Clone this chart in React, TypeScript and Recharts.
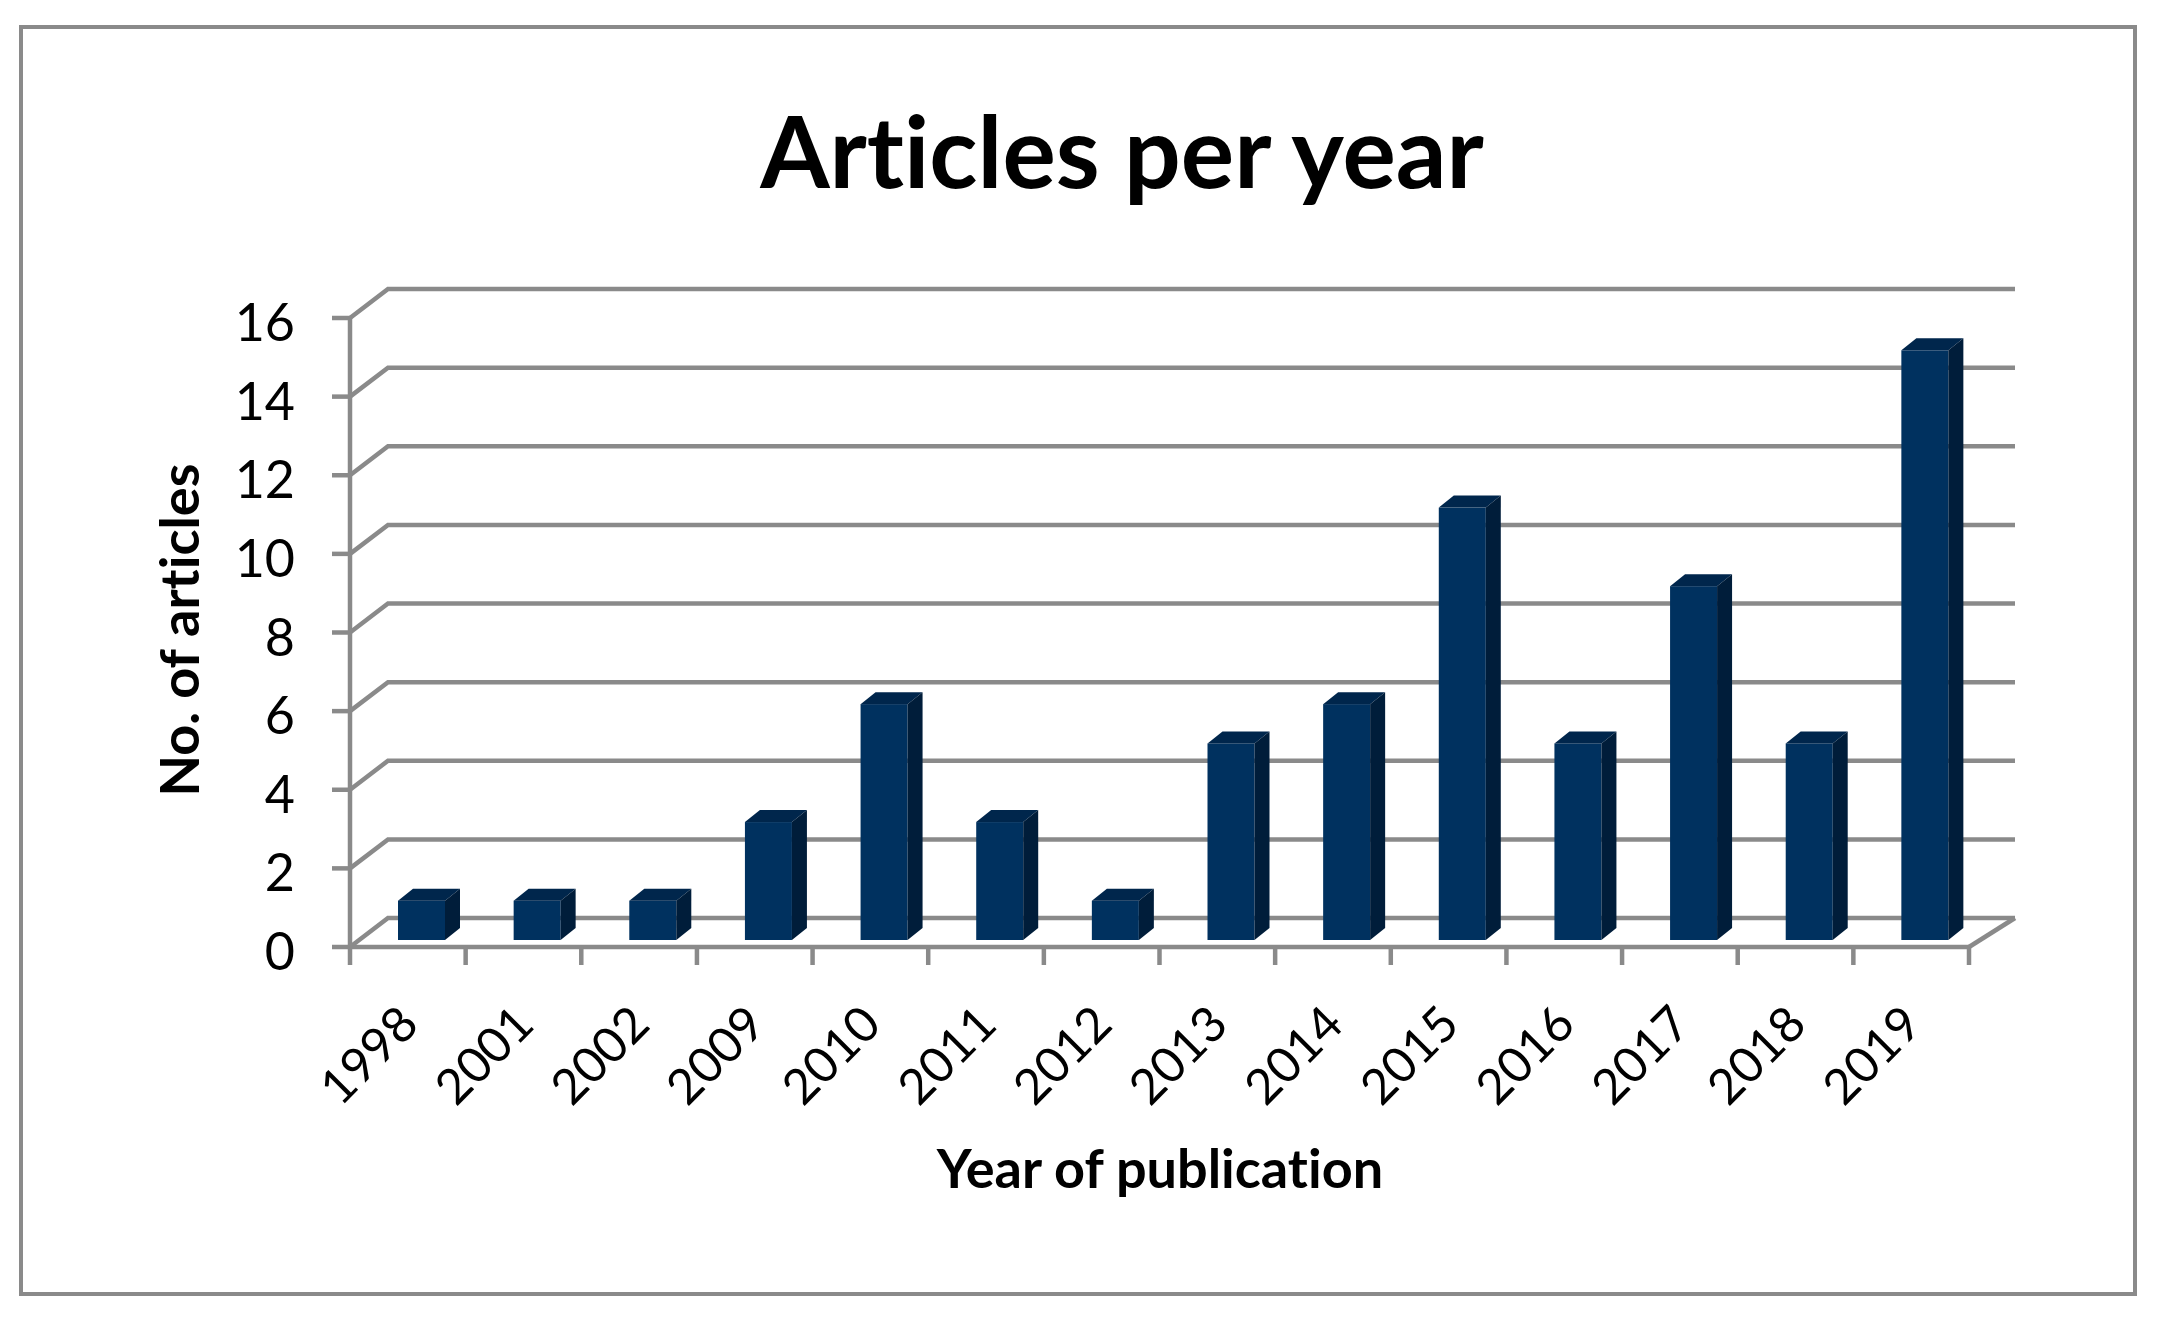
import React from 'react';
import { BarChart, Bar, XAxis, YAxis, CartesianGrid } from 'recharts';

const years = ['1998', '2001', '2002', '2009', '2010', '2011', '2012', '2013', '2014', '2015', '2016', '2017', '2018', '2019'];
const articles = [1, 1, 1, 3, 6, 3, 1, 5, 6, 11, 5, 9, 5, 15];
const yTicks = [0, 2, 4, 6, 8, 10, 12, 14, 16];

const data = years.map((year, i) => ({ year, articles: articles[i] }));

const W = 2158;
const H = 1318;
const margin = { top: 318, right: 189, bottom: 271, left: 290 };
const Y_AXIS_W = 60;
const X_AXIS_H = 100;
const plotLeft = margin.left + Y_AXIS_W;
const plotRight = W - margin.right;
const plotBottom = H - margin.bottom - X_AXIS_H;
const band = (plotRight - plotLeft) / years.length;

// 3d look: back wall offset, bar offset
const wallLeftDx = 38;
const wallRightDx = 46;
const wallDy = -29;
const barDx = 14;
const barDy = -7;
const barDepthX = 15;
const barDepthY = -12;

const gray = '#8a8a8a';
const lineW = 4.5;
const font = 'Lato, "Open Sans", sans-serif';

const GridLine = (p: any) => {
  const y = p.y1;
  const isFloor = Math.abs(y - plotBottom) < 1;
  return (
    <g key={p.key}>
      <polyline
        points={`${p.x1},${y} ${p.x1 + wallLeftDx},${y + wallDy} ${p.x2 + wallRightDx},${y + wallDy}`}
        fill="none"
        stroke={gray}
        strokeWidth={lineW}
      />
      {isFloor && (
        <line x1={p.x2} y1={y} x2={p.x2 + wallRightDx} y2={y + wallDy} stroke={gray} strokeWidth={lineW} />
      )}
    </g>
  );
};

const YTick = (p: any) => (
  <g>
    <line x1={p.x - 18} y1={p.y} x2={p.x} y2={p.y} stroke={gray} strokeWidth={lineW} />
    <text x={p.x - 55} y={p.y + 23} textAnchor="end" fontFamily={font} fontSize={52} fill="#000">
      {p.payload.value}
    </text>
  </g>
);

const XTick = (p: any) => {
  const right = p.x + band / 2;
  const left = p.x - band / 2;
  const ax = p.x + 13;
  const ay = plotBottom + 80;
  return (
    <g>
      {p.index === 0 && <line x1={left} y1={plotBottom} x2={left} y2={plotBottom + 18} stroke={gray} strokeWidth={lineW} />}
      <line x1={right} y1={plotBottom} x2={right} y2={plotBottom + 18} stroke={gray} strokeWidth={lineW} />
      <text
        x={ax}
        y={ay}
        textAnchor="end"
        transform={`rotate(-45 ${ax} ${ay})`}
        fontFamily={font}
        fontSize={49}
        fill="#000"
      >
        {p.payload.value}
      </text>
    </g>
  );
};

const Bar3D = (p: any) => {
  const x = p.x + barDx;
  const y = p.y + barDy;
  const w = p.width;
  const h = p.height;
  if (!h) return null;
  return (
    <g>
      <rect x={x} y={y} width={w} height={h} fill="#00315f" />
      <polygon
        points={`${x},${y} ${x + barDepthX},${y + barDepthY} ${x + w + barDepthX},${y + barDepthY} ${x + w},${y}`}
        fill="#00264c"
      />
      <polygon
        points={`${x + w},${y} ${x + w + barDepthX},${y + barDepthY} ${x + w + barDepthX},${y + h + barDepthY} ${x + w},${y + h}`}
        fill="#001d3a"
      />
    </g>
  );
};

const label: React.CSSProperties = {
  position: 'absolute',
  textAlign: 'center',
  fontFamily: font,
  fontWeight: 700,
  color: '#000',
  fontVariantLigatures: 'none',
  fontFeatureSettings: '"liga" 0',
};

export default function App() {
  return (
    <div style={{ position: 'absolute', left: 0, top: 0, width: W, height: H, background: '#fff' }}>
      <div
        style={{
          position: 'absolute',
          left: 19,
          top: 25,
          width: 2118,
          height: 1271,
          boxSizing: 'border-box',
          border: '4px solid #8a8a8a',
        }}
      />
      <BarChart width={W} height={H} data={data} margin={margin} style={{ position: 'absolute', left: 0, top: 0 }}>
        <CartesianGrid vertical={false} horizontal={GridLine} />
        <YAxis
          domain={[0, 16]}
          ticks={yTicks}
          interval={0}
          width={Y_AXIS_W}
          tickSize={0}
          tickMargin={0}
          tickLine={false}
          axisLine={{ stroke: gray, strokeWidth: lineW }}
          tick={YTick}
        />
        <XAxis
          dataKey="year"
          interval={0}
          height={X_AXIS_H}
          tickSize={0}
          tickMargin={0}
          tickLine={false}
          axisLine={{ stroke: gray, strokeWidth: lineW }}
          tick={XTick}
        />
        <Bar dataKey="articles" barSize={47} shape={Bar3D} isAnimationActive={false} />
      </BarChart>
      <div style={{ ...label, left: 1122 - 600, top: 99, width: 1200, fontSize: 100, lineHeight: '100px' }}>
        Articles per year
      </div>
      <div style={{ ...label, left: 1160 - 400, top: 1141, width: 800, fontSize: 54, lineHeight: '54px' }}>
        Year of publication
      </div>
      <div
        style={{
          ...label,
          left: 179 - 250,
          top: 630 - 27,
          width: 500,
          fontSize: 54,
          lineHeight: '54px',
          transform: 'rotate(-90deg)',
        }}
      >
        No. of articles
      </div>
    </div>
  );
}
